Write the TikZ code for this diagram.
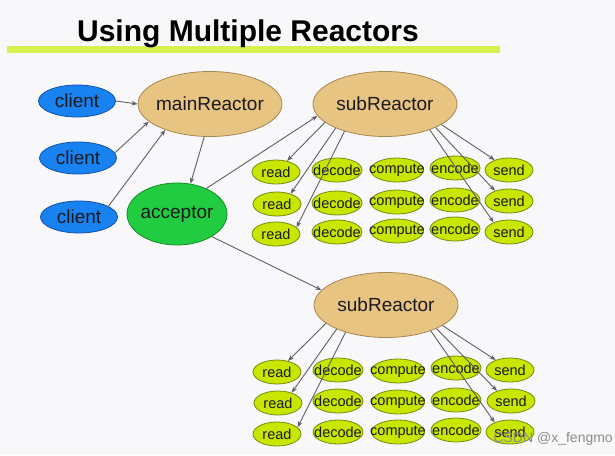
\documentclass[tikz,border=0pt]{standalone}
\usepackage{fontspec}
\setmainfont{Liberation Sans}
\usetikzlibrary{shapes.geometric,arrows.meta}
\definecolor{bg}{RGB}{248,248,250}
\definecolor{barcol}{RGB}{214,240,80}
\definecolor{cfill}{RGB}{24,130,240}
\definecolor{cdraw}{RGB}{20,80,170}
\definecolor{tfill}{RGB}{232,196,130}
\definecolor{tdraw}{RGB}{165,135,85}
\definecolor{gfill}{RGB}{34,204,64}
\definecolor{gdraw}{RGB}{20,140,40}
\definecolor{yfill}{RGB}{200,230,0}
\definecolor{ydraw}{RGB}{115,140,20}
\definecolor{arrcol}{RGB}{95,95,100}
\definecolor{txt}{RGB}{25,25,30}
\newcommand\ztext[1]{\makebox[0pt]{#1}}
\tikzset{
  bignode/.style={ellipse, draw, line width=0.8pt, inner sep=0pt, text=txt,
    font=\fontsize{19}{21}\selectfont},
  clientnode/.style={bignode, fill=cfill, draw=cdraw, minimum width=77pt, minimum height=32pt},
  reactnode/.style={bignode, fill=tfill, draw=tdraw, minimum width=144pt, minimum height=65pt},
  accnode/.style={bignode, fill=gfill, draw=gdraw, minimum width=100pt, minimum height=62pt},
  smallnode/.style={ellipse, draw=ydraw, fill=yfill, line width=0.8pt, inner sep=0pt,
    minimum height=24pt, text=txt, font=\fontsize{14.5}{16}\selectfont},
  rdnode/.style={smallnode, minimum width=48pt},
  dcnode/.style={smallnode, minimum width=50pt},
  cpnode/.style={smallnode, minimum width=53pt},
  ecnode/.style={smallnode, minimum width=50pt},
  sdnode/.style={smallnode, minimum width=48pt},
  arr/.style={draw=arrcol, line width=0.9pt, -{Stealth[length=6pt,width=4.5pt]}}
}
\begin{document}
\begin{tikzpicture}[x=1pt,y=-1pt]
\useasboundingbox[fill=bg] (0,0) rectangle (615,455);
\fill[barcol] (7,46) rectangle (500,53);
\node[anchor=base, text=black, font=\fontsize{30}{34}\selectfont\bfseries] (title) at (248,41) {Using Multiple Reactors};

\node[clientnode] (c1) at (77,101) {\ztext{client}};
\node[clientnode] (c2) at (78,158) {\ztext{client}};
\node[clientnode] (c3) at (79,217) {\ztext{client}};
\node[reactnode] (main) at (210,104) {\ztext{mainReactor}};
\node[accnode] (acc) at (177,214) {\ztext{acceptor}};
\node[reactnode] (s1) at (385,104) {\ztext{subReactor}};
\node[reactnode] (s2) at (386,305) {\ztext{subReactor}};

% group 1
\node[rdnode] (r1a) at (276,172) {\ztext{read}};
\node[rdnode] (r1b) at (277,204) {\ztext{read}};
\node[rdnode] (r1c) at (276,234) {\ztext{read}};
\node[dcnode] (d1a) at (337,170) {\ztext{decode}};
\node[dcnode] (d1b) at (337,203) {\ztext{decode}};
\node[dcnode] (d1c) at (337,232) {\ztext{decode}};
\node[cpnode] (p1a) at (397,170) {\ztext{compute}};
\node[cpnode] (p1b) at (397,202) {\ztext{compute}};
\node[cpnode] (p1c) at (397,231) {\ztext{compute}};
\node[ecnode] (e1a) at (455,168) {\ztext{encode}};
\node[ecnode] (e1b) at (455,200) {\ztext{encode}};
\node[ecnode] (e1c) at (455,229) {\ztext{encode}};
\node[sdnode] (n1a) at (509,170) {\ztext{send}};
\node[sdnode] (n1b) at (509,201) {\ztext{send}};
\node[sdnode] (n1c) at (509,232) {\ztext{send}};

% group 2
\node[rdnode] (r2a) at (277,372) {\ztext{read}};
\node[rdnode] (r2b) at (278,403) {\ztext{read}};
\node[rdnode] (r2c) at (277,434) {\ztext{read}};
\node[dcnode] (d2a) at (338,370) {\ztext{decode}};
\node[dcnode] (d2b) at (338,401) {\ztext{decode}};
\node[dcnode] (d2c) at (338,432) {\ztext{decode}};
\node[cpnode] (p2a) at (398,371) {\ztext{compute}};
\node[cpnode] (p2b) at (398,402) {\ztext{compute}};
\node[cpnode] (p2c) at (398,432) {\ztext{compute}};
\node[ecnode] (e2a) at (456,368) {\ztext{encode}};
\node[ecnode] (e2b) at (456,400) {\ztext{encode}};
\node[ecnode] (e2c) at (456,430) {\ztext{encode}};
\node[sdnode] (n2a) at (510,370) {\ztext{send}};
\node[sdnode] (n2b) at (511,401) {\ztext{send}};
\node[sdnode] (n2c) at (510,432) {\ztext{send}};

% connectors
\draw[arr] (c1.east) -- (main.west);
\draw[arr] (c2.8) -- (main.196);
\draw[arr] (c3.20) -- (main.210);
\draw[arr] (main.260) -- (acc.66);
\draw[arr] (acc.41) -- (s1.190);
\draw[arr] (acc.327) -- (s2.167);

\draw[arr] (s1.197) -- (r1a.45);
\draw[arr] (s1.206) -- (r1b.37);
\draw[arr] (s1.214) -- (r1c.18);
\draw[arr] (s1.340) -- (n1a.145);
\draw[arr] (s1.335) -- (n1b.144);
\draw[arr] (s1.330) -- (n1c.148);

\draw[arr] (s2.197) -- (r2a.45);
\draw[arr] (s2.206) -- (r2b.37);
\draw[arr] (s2.214) -- (r2c.18);
\draw[arr] (s2.340) -- (n2a.145);
\draw[arr] (s2.335) -- (n2b.144);
\draw[arr] (s2.330) -- (n2c.148);

\node[anchor=base west, text=black!45, font=\fontsize{14}{16}\selectfont] (wm) at (490,442) {CSDN @x\_fengmo};
\end{tikzpicture}
\end{document}
